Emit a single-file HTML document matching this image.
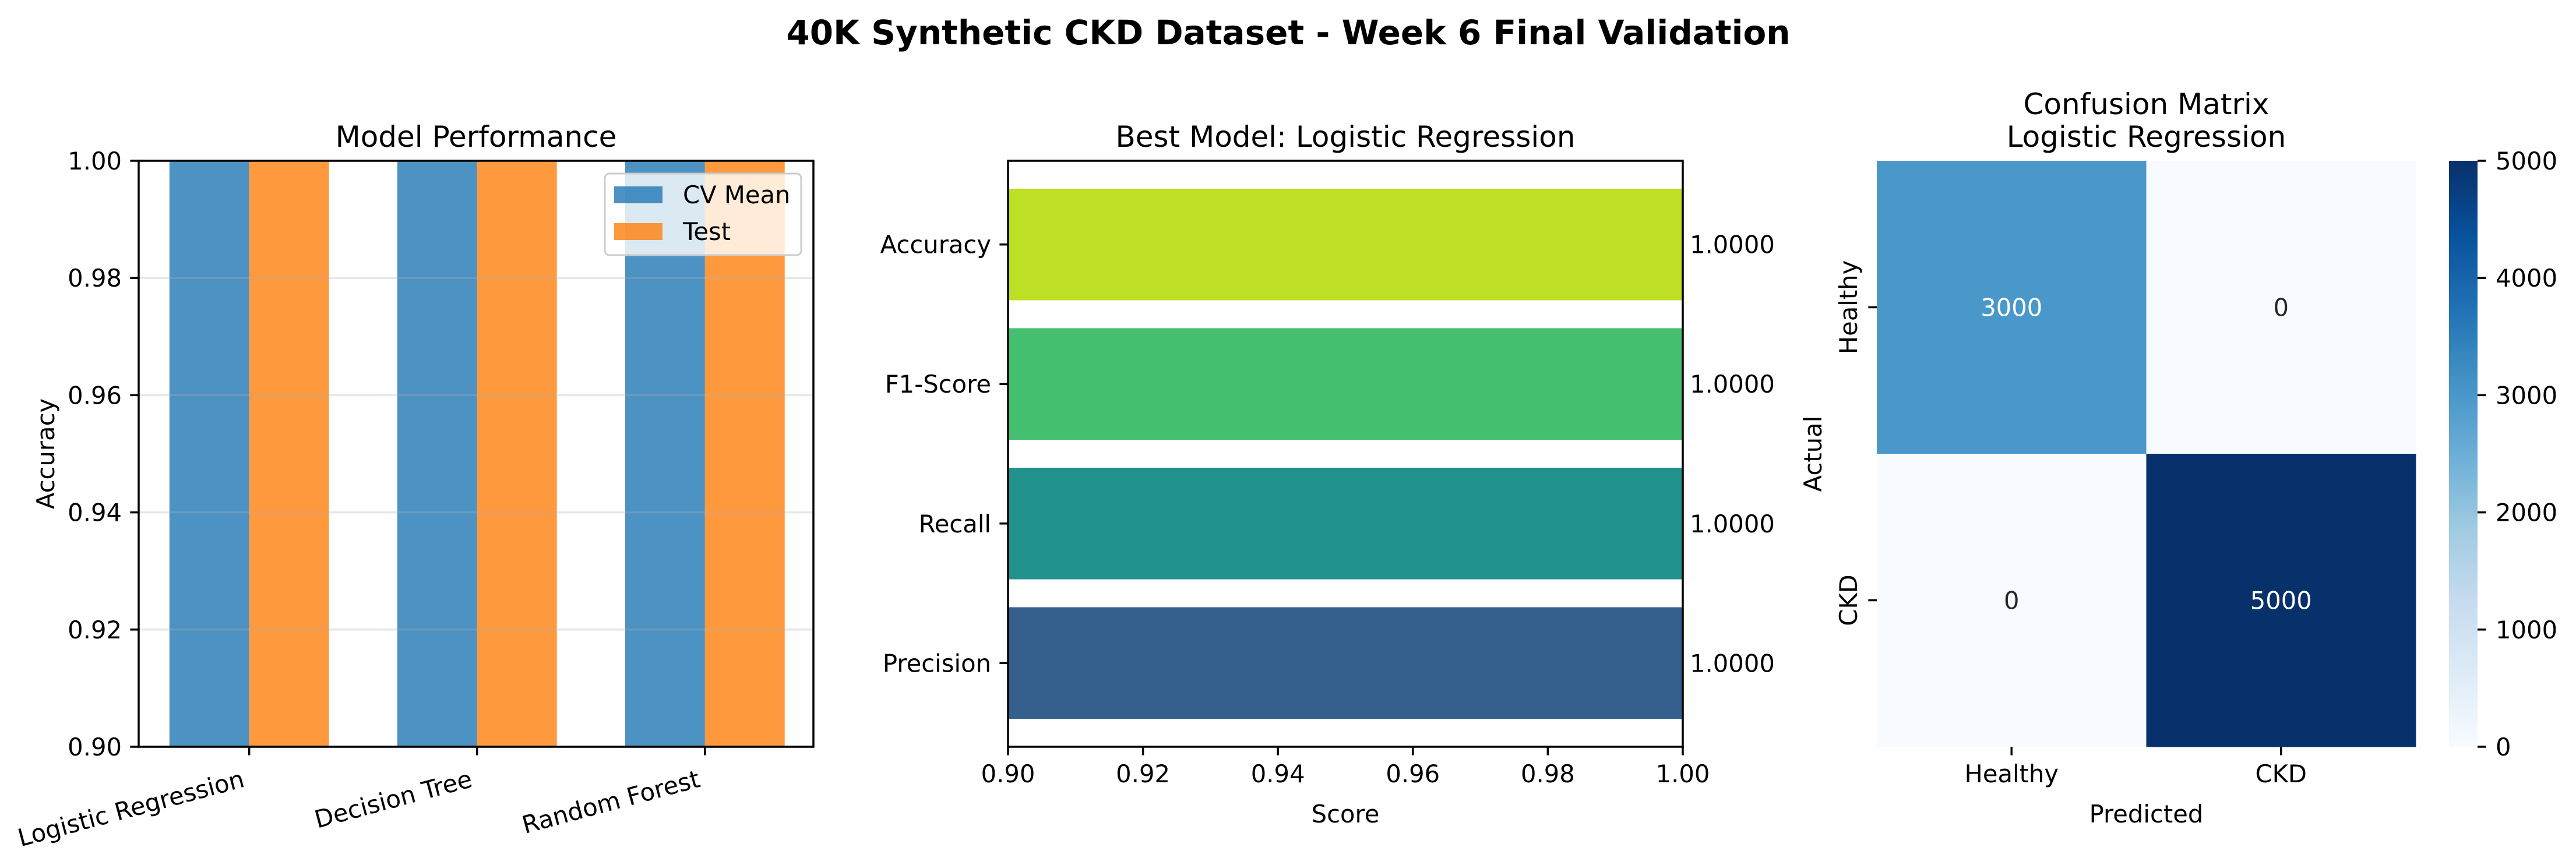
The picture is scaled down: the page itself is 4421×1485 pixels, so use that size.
<!DOCTYPE html>
<html><head><meta charset="utf-8"><style>
html,body{margin:0;padding:0;background:#fff}
svg{display:block;font-family:"DejaVu Sans","Liberation Sans",sans-serif}
</style></head><body>
<svg id="fig" xmlns="http://www.w3.org/2000/svg" width="4421" height="1485" viewBox="0 0 4421 1485">
<defs>
<linearGradient id="blues" x1="0" y1="1" x2="0" y2="0">
<stop offset="0" stop-color="#f7fbff"/><stop offset="0.125" stop-color="#deebf7"/><stop offset="0.25" stop-color="#c6dbef"/><stop offset="0.375" stop-color="#9ecae1"/><stop offset="0.5" stop-color="#6baed6"/><stop offset="0.625" stop-color="#4292c6"/><stop offset="0.75" stop-color="#2171b5"/><stop offset="0.875" stop-color="#08519c"/><stop offset="1" stop-color="#08306b"/>
</linearGradient>
</defs>
<text x="2211" y="76" text-anchor="middle" font-size="58" font-weight="bold">40K Synthetic CKD Dataset - Week 6 Final Validation</text>
<g id="p1"></g>
<g id="p2"></g>
<g id="p3"></g>
</svg>
<script>
// Panel 1 data
const models = ["Logistic Regression", "Decision Tree", "Random Forest"];
const cvMean = [1.0, 1.0, 1.0];
const testAcc = [1.0, 1.0, 1.0];
const p1Ticks = [0.90, 0.92, 0.94, 0.96, 0.98, 1.00];
// Panel 2 data
const metrics = ["Precision", "Recall", "F1-Score", "Accuracy"];
const metricValues = [1.0, 1.0, 1.0, 1.0];
const metricColors = ["#35608d", "#21918c", "#44bf70", "#bddf26"];
const p2Ticks = [0.90, 0.92, 0.94, 0.96, 0.98, 1.00];
// Panel 3 data
const cmLabels = ["Healthy", "CKD"];
const cmRow0 = [3000, 0];
const cmRow1 = [0, 5000];
const cbarTicks = [0, 1000, 2000, 3000, 4000, 5000];

const NS = "http://www.w3.org/2000/svg";
function mk(parent, tag, attrs, text) {
  const e = document.createElementNS(NS, tag);
  for (const k in attrs) e.setAttribute(k, attrs[k]);
  if (text !== undefined) e.textContent = text;
  parent.appendChild(e);
  return e;
}
const FS = 41.7;
let e;

// ---------- Panel 1 ----------
{
  const g = document.getElementById("p1");
  const L = 238, R = 1396, T = 276, B = 1282;
  const xmin = -0.485, xmax = 2.476, ymin = 0.9, ymax = 1.0;
  const X = v => L + (v - xmin) / (xmax - xmin) * (R - L);
  const Y = v => B - (Math.min(Math.max(v, ymin), ymax) - ymin) / (ymax - ymin) * (B - T);
  const w = 0.35;
  models.forEach((m, i) => {
    e = mk(g, "rect", {x: X(i - w), y: Y(cvMean[i]), width: X(i) - X(i - w), height: Y(ymin) - Y(cvMean[i]), fill: "#1f77b4", "fill-opacity": 0.8});
    
    
    e = mk(g, "rect", {x: X(i), y: Y(testAcc[i]), width: X(i + w) - X(i), height: Y(ymin) - Y(testAcc[i]), fill: "#ff7f0e", "fill-opacity": 0.8});
    
    
  });
  p1Ticks.forEach(t => {
    e = mk(g, "line", {x1: L, x2: R, y1: Y(t), y2: Y(t), stroke: "#b0b0b0", "stroke-opacity": 0.3, "stroke-width": 3.5});
    
    
    e = mk(g, "line", {x1: L - 14.6, x2: L, y1: Y(t), y2: Y(t), stroke: "#000", "stroke-width": 3.5});
    
    
    e = mk(g, "text", {x: L - 29, y: Y(t) + 15, "text-anchor": "end", "font-size": FS}, t.toFixed(2));
    
    
  });
  models.forEach((m, i) => {
    e = mk(g, "line", {x1: X(i), x2: X(i), y1: B, y2: B + 14.6, stroke: "#000", "stroke-width": 3.5});
    
    
    const ax = X(i) - 6, ay = 1350;
    e = mk(g, "text", {x: ax, y: ay, "text-anchor": "end", "font-size": FS, transform: `rotate(-15 ${ax} ${ay})`}, m);
    
    
  });
  e = mk(g, "rect", {x: L, y: T, width: R - L, height: B - T, fill: "none", stroke: "#000", "stroke-width": 3.5});
  
  
  e = mk(g, "text", {x: (L + R) / 2, y: 252, "text-anchor": "middle", "font-size": 50}, "Model Performance");
  
  
  e = mk(g, "text", {x: 93, y: 779, "text-anchor": "middle", "font-size": FS, transform: "rotate(-90 93 779)"}, "Accuracy");
  
  
  // legend
  const lg = mk(g, "g", {});
  
  
  mk(lg, "rect", {x: 1038, y: 298, width: 337, height: 140, rx: 8, fill: "#fff", "fill-opacity": 0.8, stroke: "#cccccc", "stroke-width": 3});
  e = mk(lg, "rect", {x: 1054, y: 320, width: 83, height: 29, fill: "#1f77b4", "fill-opacity": 0.8});
  
  
  e = mk(lg, "text", {x: 1172, y: 349, "font-size": FS}, "CV Mean");
  
  
  e = mk(lg, "rect", {x: 1054, y: 383, width: 83, height: 29, fill: "#ff7f0e", "fill-opacity": 0.8});
  
  
  e = mk(lg, "text", {x: 1172, y: 412, "font-size": FS}, "Test");
  
  
}

// ---------- Panel 2 ----------
{
  const g = document.getElementById("p2");
  const L = 1730, R = 2888, T = 276, B = 1282;
  const xmin = 0.9, xmax = 1.0, ymin = -0.6, ymax = 3.6;
  const X = v => L + (Math.min(Math.max(v, xmin), xmax) - xmin) / (xmax - xmin) * (R - L);
  const Y = v => B - (v - ymin) / (ymax - ymin) * (B - T);
  const h = 0.8;
  metrics.forEach((m, i) => {
    e = mk(g, "rect", {x: X(xmin), y: Y(i + h / 2), width: X(metricValues[i]) - X(xmin), height: Y(i - h / 2) - Y(i + h / 2), fill: metricColors[i]});
    
    
    e = mk(g, "text", {x: X(metricValues[i]) + 12, y: Y(i) + 15, "font-size": FS}, metricValues[i].toFixed(4));
    
    
    e = mk(g, "line", {x1: L - 14.6, x2: L, y1: Y(i), y2: Y(i), stroke: "#000", "stroke-width": 3.5});
    
    
    e = mk(g, "text", {x: L - 29, y: Y(i) + 15, "text-anchor": "end", "font-size": FS}, m);
    
    
  });
  p2Ticks.forEach(t => {
    e = mk(g, "line", {x1: X(t), x2: X(t), y1: B, y2: B + 14.6, stroke: "#000", "stroke-width": 3.5});
    
    
    e = mk(g, "text", {x: X(t), y: 1343, "text-anchor": "middle", "font-size": FS}, t.toFixed(2));
    
    
  });
  e = mk(g, "rect", {x: L, y: T, width: R - L, height: B - T, fill: "none", stroke: "#000", "stroke-width": 3.5});
  
  
  e = mk(g, "text", {x: (L + R) / 2, y: 252, "text-anchor": "middle", "font-size": 50}, "Best Model: Logistic Regression");
  
  
  e = mk(g, "text", {x: (L + R) / 2, y: 1412, "text-anchor": "middle", "font-size": FS}, "Score");
  
  
}

// ---------- Panel 3 ----------
{
  const g = document.getElementById("p3");
  const L = 3221, R = 4146, T = 276, B = 1282;
  const vmax = 5000;
  const stops = ["#f7fbff","#deebf7","#c6dbef","#9ecae1","#6baed6","#4292c6","#2171b5","#08519c","#08306b"];
  const hex = s => [1,3,5].map(k => parseInt(s.substr(k,2),16));
  function blues(t) {
    t = Math.min(Math.max(t,0),1) * 8;
    const i = Math.min(Math.floor(t), 7), f = t - i;
    const a = hex(stops[i]), b = hex(stops[i+1]);
    return "rgb(" + a.map((v,k) => Math.round(v + (b[k]-v)*f)).join(",") + ")";
  }
  const rows = [cmRow0, cmRow1];
  const cw = (R - L) / 2, ch = (B - T) / 2;
  rows.forEach((row, r) => row.forEach((v, c) => {
    e = mk(g, "rect", {x: L + c * cw, y: T + r * ch, width: cw + 0.5, height: ch + 0.5, fill: blues(v / vmax)});
    
    
    e = mk(g, "text", {x: L + (c + 0.5) * cw, y: T + (r + 0.5) * ch + 15, "text-anchor": "middle", "font-size": FS, fill: v / vmax > 0.5 ? "#ffffff" : "#262626"}, String(v));
    
    
  }));
  cmLabels.forEach((lab, i) => {
    const cx = L + (i + 0.5) * cw, cy = T + (i + 0.5) * ch;
    e = mk(g, "line", {x1: cx, x2: cx, y1: B, y2: B + 14.6, stroke: "#000", "stroke-width": 3.5});
    
    
    e = mk(g, "text", {x: cx, y: 1343, "text-anchor": "middle", "font-size": FS}, lab);
    
    
    e = mk(g, "line", {x1: L - 14.6, x2: L, y1: cy, y2: cy, stroke: "#000", "stroke-width": 3.5});
    
    
    e = mk(g, "text", {x: 3187, y: cy, "text-anchor": "middle", "font-size": FS, transform: `rotate(-90 3187 ${cy})`}, lab);
    
    
  });
  e = mk(g, "text", {x: (L + R) / 2, y: 196, "text-anchor": "middle", "font-size": 50}, "Confusion Matrix");
  
  
  e = mk(g, "text", {x: (L + R) / 2, y: 252, "text-anchor": "middle", "font-size": 50}, "Logistic Regression");
  
  
  e = mk(g, "text", {x: (L + R) / 2, y: 1412, "text-anchor": "middle", "font-size": FS}, "Predicted");
  
  
  e = mk(g, "text", {x: 3126, y: 779, "text-anchor": "middle", "font-size": FS, transform: "rotate(-90 3126 779)"}, "Actual");
  
  
  // colorbar
  const cL = 4203, cR = 4252;
  e = mk(g, "rect", {x: cL, y: T, width: cR - cL, height: B - T, fill: "url(#blues)"});
  
  
  cbarTicks.forEach(t => {
    const y = B - t / vmax * (B - T);
    e = mk(g, "line", {x1: cR, x2: cR + 14.6, y1: y, y2: y, stroke: "#000", "stroke-width": 3.5});
    
    
    e = mk(g, "text", {x: 4283, y: y + 15, "font-size": FS}, String(t));
    
    
  });
}
</script>
</body></html>
